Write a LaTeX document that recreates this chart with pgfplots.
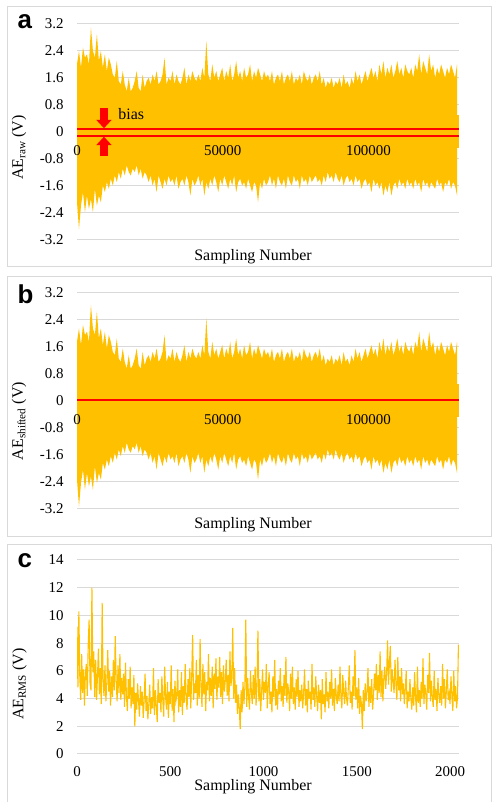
\documentclass[border=0pt]{standalone}
\usepackage{pgfplots}
\pgfplotsset{compat=1.18}
\usepackage{pgfplotstable}
\usepackage{fontspec}
\setmainfont{Liberation Serif}
\setsansfont{Liberation Sans}
\usetikzlibrary{arrows.meta}
\definecolor{aeyellow}{HTML}{FFC000}
\definecolor{gridgray}{HTML}{D9D9D9}
\definecolor{boxgray}{HTML}{D9D9D9}
\definecolor{biasred}{HTML}{FF0000}

\pgfplotsset{
 aebase/.style={scale only axis, width=382bp, anchor=south west,
  axis line style={draw=none}, tick style={draw=none}, major tick length=0pt,
  ymajorgrids, grid style={draw=gridgray, line width=1bp},
  tick label style={font=\fontsize{15}{18}\selectfont},
  /pgf/number format/assume math mode=true,
  yticklabel style={xshift=-10bp},
 },
 xlabover/.style={scale only axis, width=382bp, anchor=south west,
  xmin=0, xmax=131072, ymin=-3.2, ymax=3.2,
  axis line style={draw=none}, tick style={draw=none}, major tick length=0pt,
  ytick=\empty, xtick={0,50000,100000}, scaled x ticks=false,
  tick label style={font=\fontsize{15}{18}\selectfont},
  /pgf/number format/assume math mode=true,
  xticklabel style={/pgf/number format/fixed, /pgf/number format/precision=0, /pgf/number format/1000 sep={}, yshift=97.65bp},
 },
}

% panels a and b: per-bin extremes (bin = 682.67 samples)
\pgfplotstableread{
ahi alo bhi blo
2.0 -2.1 1.75 -2.35
2.4 -2.9 2.15 -3.15
1.9 -2.2 1.65 -2.45
2.5 -1.8 2.25 -2.05
2.2 -2.4 1.95 -2.65
2.3 -1.9 2.05 -2.15
2.0 -2.3 1.75 -2.55
3.1 -2.0 2.85 -2.25
2.4 -2.4 2.15 -2.65
2.2 -1.7 1.95 -1.95
2.9 -2.2 2.65 -2.45
2.1 -1.9 1.85 -2.15
2.4 -2.1 2.15 -2.35
1.9 -1.6 1.65 -1.85
2.3 -1.8 2.05 -2.05
1.8 -1.5 1.55 -1.75
2.2 -1.7 1.95 -1.95
2.0 -1.4 1.75 -1.65
1.7 -1.6 1.45 -1.85
1.6 -1.3 1.35 -1.55
2.1 -1.5 1.85 -1.75
1.5 -1.2 1.25 -1.45
1.4 -1.4 1.15 -1.65
1.8 -1.1 1.55 -1.35
1.4 -1.3 1.15 -1.55
1.2 -1.0 0.95 -1.25
1.6 -1.2 1.35 -1.45
1.2 -1.3 0.95 -1.55
1.3 -1.1 1.05 -1.35
1.5 -1.2 1.25 -1.45
1.8 -1.0 1.55 -1.25
1.3 -1.3 1.05 -1.55
1.2 -1.1 0.95 -1.35
1.7 -1.4 1.45 -1.65
1.3 -1.2 1.05 -1.45
1.5 -1.3 1.25 -1.55
1.6 -1.5 1.35 -1.75
1.4 -1.3 1.15 -1.55
1.7 -1.6 1.45 -1.85
1.5 -1.4 1.25 -1.65
1.8 -1.8 1.55 -2.05
1.4 -1.3 1.15 -1.55
1.5 -1.5 1.25 -1.75
1.7 -1.7 1.45 -1.95
2.2 -1.4 1.95 -1.65
1.4 -1.6 1.15 -1.85
1.6 -1.3 1.35 -1.55
1.5 -1.5 1.25 -1.75
1.8 -1.4 1.55 -1.65
1.4 -1.6 1.15 -1.85
1.7 -1.3 1.45 -1.55
1.5 -1.7 1.25 -1.95
1.4 -1.5 1.15 -1.75
1.6 -1.4 1.35 -1.65
1.9 -1.6 1.65 -1.85
1.4 -1.3 1.15 -1.55
1.7 -1.5 1.45 -1.75
1.5 -1.9 1.25 -2.15
1.8 -1.4 1.55 -1.65
1.6 -1.6 1.35 -1.85
1.5 -1.5 1.25 -1.75
1.7 -1.3 1.45 -1.55
1.5 -1.6 1.25 -1.85
1.9 -1.4 1.65 -1.65
1.6 -1.9 1.35 -2.15
2.7 -1.5 2.45 -1.75
1.7 -1.7 1.45 -1.95
1.5 -1.4 1.25 -1.65
2.0 -1.6 1.75 -1.85
1.6 -1.3 1.35 -1.55
1.8 -1.5 1.55 -1.75
1.5 -1.8 1.25 -2.05
1.7 -1.4 1.45 -1.65
1.9 -1.6 1.65 -1.85
1.5 -1.3 1.25 -1.55
1.8 -1.5 1.55 -1.75
1.6 -1.7 1.35 -1.95
2.0 -1.4 1.75 -1.65
1.5 -1.6 1.25 -1.85
1.7 -1.3 1.45 -1.55
2.1 -1.8 1.85 -2.05
1.6 -1.5 1.35 -1.75
1.8 -1.4 1.55 -1.65
1.5 -1.6 1.25 -1.85
1.9 -1.5 1.65 -1.75
1.6 -1.7 1.35 -1.95
1.7 -1.4 1.45 -1.65
2.0 -1.6 1.75 -1.85
1.5 -1.8 1.25 -2.05
1.8 -1.5 1.55 -1.75
1.6 -1.6 1.35 -1.85
1.9 -2.1 1.65 -2.35
1.7 -1.5 1.45 -1.75
1.5 -1.7 1.25 -1.95
1.8 -1.4 1.55 -1.65
1.6 -1.6 1.35 -1.85
1.7 -1.5 1.45 -1.75
1.5 -1.3 1.25 -1.55
1.8 -1.6 1.55 -1.85
1.4 -1.4 1.15 -1.65
1.6 -1.7 1.35 -1.95
1.7 -1.3 1.45 -1.55
1.5 -1.5 1.25 -1.75
1.8 -1.6 1.55 -1.85
1.4 -1.4 1.15 -1.65
1.6 -1.7 1.35 -1.95
1.7 -1.3 1.45 -1.55
1.5 -1.5 1.25 -1.75
1.8 -1.6 1.55 -1.85
1.4 -1.3 1.15 -1.55
1.6 -1.5 1.35 -1.75
1.5 -1.4 1.25 -1.65
1.7 -1.7 1.45 -1.95
1.4 -1.3 1.15 -1.55
1.8 -1.5 1.55 -1.75
1.6 -1.4 1.35 -1.65
1.5 -1.6 1.25 -1.85
1.7 -1.3 1.45 -1.55
1.4 -1.5 1.15 -1.75
1.6 -1.4 1.35 -1.65
1.7 -1.3 1.45 -1.55
1.5 -1.5 1.25 -1.75
1.8 -1.4 1.55 -1.65
1.4 -1.6 1.15 -1.85
1.6 -1.3 1.35 -1.55
1.3 -1.5 1.05 -1.75
1.5 -1.2 1.25 -1.45
1.4 -1.4 1.15 -1.65
1.6 -1.3 1.35 -1.55
1.3 -1.5 1.05 -1.75
1.5 -1.2 1.25 -1.45
1.4 -1.4 1.15 -1.65
1.6 -1.5 1.35 -1.75
1.3 -1.3 1.05 -1.55
1.7 -1.6 1.45 -1.85
1.4 -1.4 1.15 -1.65
1.5 -1.3 1.25 -1.55
1.3 -1.5 1.05 -1.75
1.6 -1.4 1.35 -1.65
1.4 -1.6 1.15 -1.85
1.8 -1.3 1.55 -1.55
1.5 -1.5 1.25 -1.75
1.7 -1.4 1.45 -1.65
1.4 -1.7 1.15 -1.95
1.6 -1.5 1.35 -1.75
1.8 -1.4 1.55 -1.65
1.5 -1.6 1.25 -1.85
1.7 -1.5 1.45 -1.75
1.9 -1.8 1.65 -2.05
1.6 -1.4 1.35 -1.65
1.8 -1.6 1.55 -1.85
1.5 -1.5 1.25 -1.75
2.0 -1.7 1.75 -1.95
1.7 -1.5 1.45 -1.75
2.1 -1.9 1.85 -2.15
1.6 -1.6 1.35 -1.85
1.9 -1.8 1.65 -2.05
1.7 -1.5 1.45 -1.75
2.0 -1.9 1.75 -2.15
1.6 -1.6 1.35 -1.85
1.8 -1.5 1.55 -1.75
2.1 -1.7 1.85 -1.95
1.7 -1.4 1.45 -1.65
1.9 -1.6 1.65 -1.85
1.6 -1.5 1.35 -1.75
2.0 -1.7 1.75 -1.95
1.8 -1.4 1.55 -1.65
1.7 -1.6 1.45 -1.85
1.9 -1.5 1.65 -1.75
1.6 -1.7 1.35 -1.95
2.0 -1.4 1.75 -1.65
1.8 -1.6 1.55 -1.85
2.3 -1.5 2.05 -1.75
1.7 -1.8 1.45 -2.05
2.1 -1.4 1.85 -1.65
1.9 -1.6 1.65 -1.85
1.7 -1.5 1.45 -1.75
2.3 -1.7 2.05 -1.95
1.8 -1.5 1.55 -1.75
2.0 -1.6 1.75 -1.85
1.6 -1.7 1.35 -1.95
1.9 -1.4 1.65 -1.65
1.7 -1.6 1.45 -1.85
2.0 -1.5 1.75 -1.75
1.8 -1.8 1.55 -2.05
1.6 -1.5 1.35 -1.75
1.9 -1.6 1.65 -1.85
1.7 -1.4 1.45 -1.65
2.0 -1.7 1.75 -1.95
1.8 -1.5 1.55 -1.75
1.6 -1.6 1.35 -1.85
2.0 -1.9 1.75 -2.15
}\tabAB

% panel c: RMS values, every 5th sample
\pgfplotstableread[header=false,row sep=\\]{
9.2\\4.8\\10.3\\5.6\\3.9\\7.2\\4.4\\6.1\\3.5\\5.8\\
6.5\\4.2\\7.8\\9.7\\5.1\\4.6\\12.0\\5.9\\7.4\\4.1\\
6.8\\3.9\\5.7\\7.6\\4.3\\6.2\\3.6\\10.9\\5.0\\4.2\\
6.4\\3.8\\5.2\\7.5\\4.5\\6.0\\3.5\\5.6\\4.1\\6.8\\
4.6\\8.5\\5.3\\3.8\\6.4\\4.4\\7.2\\3.9\\5.5\\4.3\\
5.8\\3.4\\6.6\\4.2\\3.1\\5.4\\4.0\\6.3\\3.3\\4.8\\
3.6\\5.7\\2.0\\4.4\\3.2\\5.1\\3.8\\2.7\\4.9\\3.5\\
4.5\\2.6\\3.9\\5.8\\3.1\\4.2\\2.5\\3.6\\5.0\\2.9\\
4.1\\3.3\\6.2\\2.8\\4.6\\3.5\\2.3\\5.4\\3.7\\4.4\\
3.0\\5.6\\3.9\\2.7\\6.3\\4.1\\3.2\\5.2\\2.6\\4.5\\
3.6\\6.4\\3.1\\4.7\\2.3\\5.3\\3.8\\4.2\\6.1\\3.0\\
4.6\\3.4\\5.9\\2.8\\4.9\\3.7\\6.5\\4.0\\3.2\\5.4\\
4.1\\6.2\\3.3\\5.6\\8.6\\3.9\\5.1\\4.4\\6.8\\3.5\\
5.7\\4.0\\8.3\\4.8\\3.4\\6.5\\4.3\\5.9\\3.1\\5.2\\
4.6\\7.2\\3.8\\5.5\\4.2\\6.3\\3.3\\5.8\\4.7\\6.9\\
3.9\\5.6\\4.8\\7.0\\4.1\\5.9\\3.6\\6.4\\4.5\\5.3\\
6.8\\4.2\\5.7\\3.8\\7.4\\4.9\\5.5\\9.1\\4.0\\6.2\\
3.7\\5.0\\2.9\\4.3\\3.3\\1.8\\4.6\\3.0\\5.2\\3.6\\
4.8\\9.7\\3.4\\5.5\\4.1\\3.2\\6.0\\4.4\\3.6\\5.7\\
4.0\\6.3\\3.5\\4.9\\8.9\\3.8\\5.4\\3.1\\4.6\\6.1\\
3.9\\5.2\\4.4\\6.5\\3.3\\4.8\\5.9\\3.6\\4.5\\3.0\\
5.6\\4.1\\6.8\\3.5\\4.7\\3.2\\5.3\\4.3\\6.2\\3.8\\
4.9\\3.4\\5.7\\4.2\\7.0\\3.7\\5.1\\4.5\\3.1\\5.8\\
4.0\\6.3\\3.6\\4.8\\3.2\\5.4\\4.1\\6.0\\3.4\\4.6\\
3.8\\5.0\\3.3\\4.4\\6.1\\3.5\\4.7\\3.0\\5.3\\4.0\\
4.5\\3.2\\6.5\\3.9\\4.8\\3.4\\5.6\\4.2\\3.1\\5.0\\
3.7\\4.6\\2.5\\5.4\\3.6\\4.3\\3.0\\5.9\\3.8\\4.5\\
3.3\\5.2\\4.0\\6.1\\3.5\\4.7\\3.1\\5.5\\4.2\\3.6\\
5.0\\3.8\\6.3\\4.1\\3.3\\5.7\\4.4\\3.6\\5.3\\4.0\\
3.5\\4.9\\6.4\\3.7\\4.5\\3.2\\5.6\\4.2\\7.5\\3.9\\
4.8\\3.3\\5.5\\2.9\\4.2\\3.6\\1.8\\4.6\\3.1\\5.1\\
3.8\\4.5\\6.2\\3.4\\4.9\\3.7\\5.4\\3.2\\4.3\\5.8\\
4.6\\6.5\\3.9\\5.7\\4.4\\7.4\\4.1\\6.0\\3.8\\5.5\\
6.3\\4.7\\5.8\\8.2\\5.0\\6.6\\7.8\\4.5\\6.1\\5.2\\
4.4\\6.8\\5.0\\3.9\\7.0\\4.6\\5.6\\3.8\\6.2\\4.3\\
5.1\\3.6\\4.7\\6.0\\3.3\\4.5\\3.8\\5.4\\4.0\\3.2\\
4.8\\3.5\\5.9\\4.1\\3.0\\6.3\\3.7\\4.6\\3.4\\5.2\\
4.0\\6.9\\3.6\\5.0\\4.3\\3.2\\5.7\\4.4\\7.3\\3.8\\
5.3\\4.1\\3.4\\6.0\\3.9\\4.7\\3.1\\5.5\\4.2\\3.7\\
4.9\\3.5\\6.5\\4.0\\5.4\\3.3\\4.5\\6.1\\3.9\\4.4\\
3.6\\5.6\\4.2\\3.1\\6.0\\3.8\\4.9\\3.3\\4.1\\7.9\\
}\tabC

\begin{document}
\begin{tikzpicture}
\useasboundingbox (0,0) rectangle (494bp,802bp);
% panel frames
\draw[boxgray, line width=1bp] (7bp,535bp) rectangle (491bp,795bp);
\draw[boxgray, line width=1bp] (7bp,265bp) rectangle (491bp,525bp);
\draw[boxgray, line width=1bp] (7bp,-5bp) rectangle (491bp,257bp);

% ---------- panel a ----------
\begin{axis}[aebase, at={(77bp,562.7bp)}, height=215.3bp,
  xmin=0, xmax=131072, ymin=-3.2, ymax=3.2, xtick=\empty,
  ytick={-3.2,-2.4,-1.6,-0.8,0,0.8,1.6,2.4,3.2},
  yticklabel style={/pgf/number format/fixed, /pgf/number format/precision=1},
]
\addplot[fill=aeyellow, draw=none, mark=none] table[x expr=\coordindex*682.67, y=ahi]{\tabAB} \closedcycle;
\addplot[fill=aeyellow, draw=none, mark=none] table[x expr=\coordindex*682.67, y=alo]{\tabAB} \closedcycle;
\addplot[fill=aeyellow, draw=none] coordinates {(0,-0.5) (131072,-0.5) (131072,0.5) (0,0.5)} -- cycle;
% the two levels that mark the bias (thin filled strips)
\addplot[fill=biasred, draw=none] coordinates {(0,0.06) (131072,0.06) (131072,0.10) (0,0.10)} -- cycle;
\addplot[fill=biasred, draw=none] coordinates {(0,-0.15) (131072,-0.15) (131072,-0.11) (0,-0.11)} -- cycle;
\draw[biasred, line width=7.5bp, -{Triangle[width=15bp,length=8.5bp]}] (axis cs:9250,0.69) -- (axis cs:9250,0.10);
\draw[biasred, line width=7.5bp, -{Triangle[width=15bp,length=8.5bp]}] (axis cs:9250,-0.72) -- (axis cs:9250,-0.15);
\node[anchor=base west, font=\fontsize{16}{19}\selectfont] at (axis cs:13000,0.375) {bias};
\end{axis}
\begin{axis}[xlabover, at={(77bp,562.7bp)}, height=215.3bp]
\end{axis}

% ---------- panel b ----------
\begin{axis}[aebase, at={(77bp,293.7bp)}, height=215.3bp,
  xmin=0, xmax=131072, ymin=-3.2, ymax=3.2, xtick=\empty,
  ytick={-3.2,-2.4,-1.6,-0.8,0,0.8,1.6,2.4,3.2},
  yticklabel style={/pgf/number format/fixed, /pgf/number format/precision=1},
]
\addplot[fill=aeyellow, draw=none, mark=none] table[x expr=\coordindex*682.67, y=bhi]{\tabAB} \closedcycle;
\addplot[fill=aeyellow, draw=none, mark=none] table[x expr=\coordindex*682.67, y=blo]{\tabAB} \closedcycle;
\addplot[fill=aeyellow, draw=none] coordinates {(0,-0.5) (131072,-0.5) (131072,0.5) (0,0.5)} -- cycle;
\addplot[fill=biasred, draw=none] coordinates {(0,0.0) (131072,0.0) (131072,0.05) (0,0.05)} -- cycle;
\end{axis}
\begin{axis}[xlabover, at={(77bp,293.7bp)}, height=215.3bp]
\end{axis}

% ---------- panel c ----------
\begin{axis}[aebase, at={(77bp,48bp)}, height=194bp,
  xmin=0, xmax=2048, ymin=0, ymax=14,
  xtick={0,500,1000,1500,2000}, ytick={0,2,4,6,8,10,12,14},
  xticklabel style={/pgf/number format/fixed, /pgf/number format/precision=0, /pgf/number format/1000 sep={}, yshift=-9bp},
]
\addplot[aeyellow, line width=1.1bp, mark=none] table[x expr=\coordindex*5, y index=0]{\tabC};
\end{axis}

% panel letters
\node[anchor=base west, font=\fontsize{26}{26}\sffamily\bfseries] at (14bp,773.7bp) {a};
\node[anchor=base west, font=\fontsize{26}{26}\sffamily\bfseries] at (14bp,498.7bp) {b};
\node[anchor=base west, font=\fontsize{26}{26}\sffamily\bfseries] at (14bp,234bp) {c};

% axis titles
\node[rotate=90, font=\fontsize{16}{19}\selectfont] at (19bp,654.5bp) {AE\textsubscript{raw} (V)};
\node[rotate=90, font=\fontsize{16}{19}\selectfont] at (19bp,381bp) {AE\textsubscript{shifted} (V)};
\node[rotate=90, font=\fontsize{16}{19}\selectfont] at (19.5bp,118bp) {AE\textsubscript{RMS} (V)};
\node[anchor=base, font=\fontsize{16}{19}\selectfont] at (253bp,541.4bp) {Sampling Number};
\node[anchor=base, font=\fontsize{16}{19}\selectfont] at (253bp,273.1bp) {Sampling Number};
\node[anchor=base, font=\fontsize{16}{19}\selectfont] at (253bp,11.4bp) {Sampling Number};
\end{tikzpicture}
\end{document}
